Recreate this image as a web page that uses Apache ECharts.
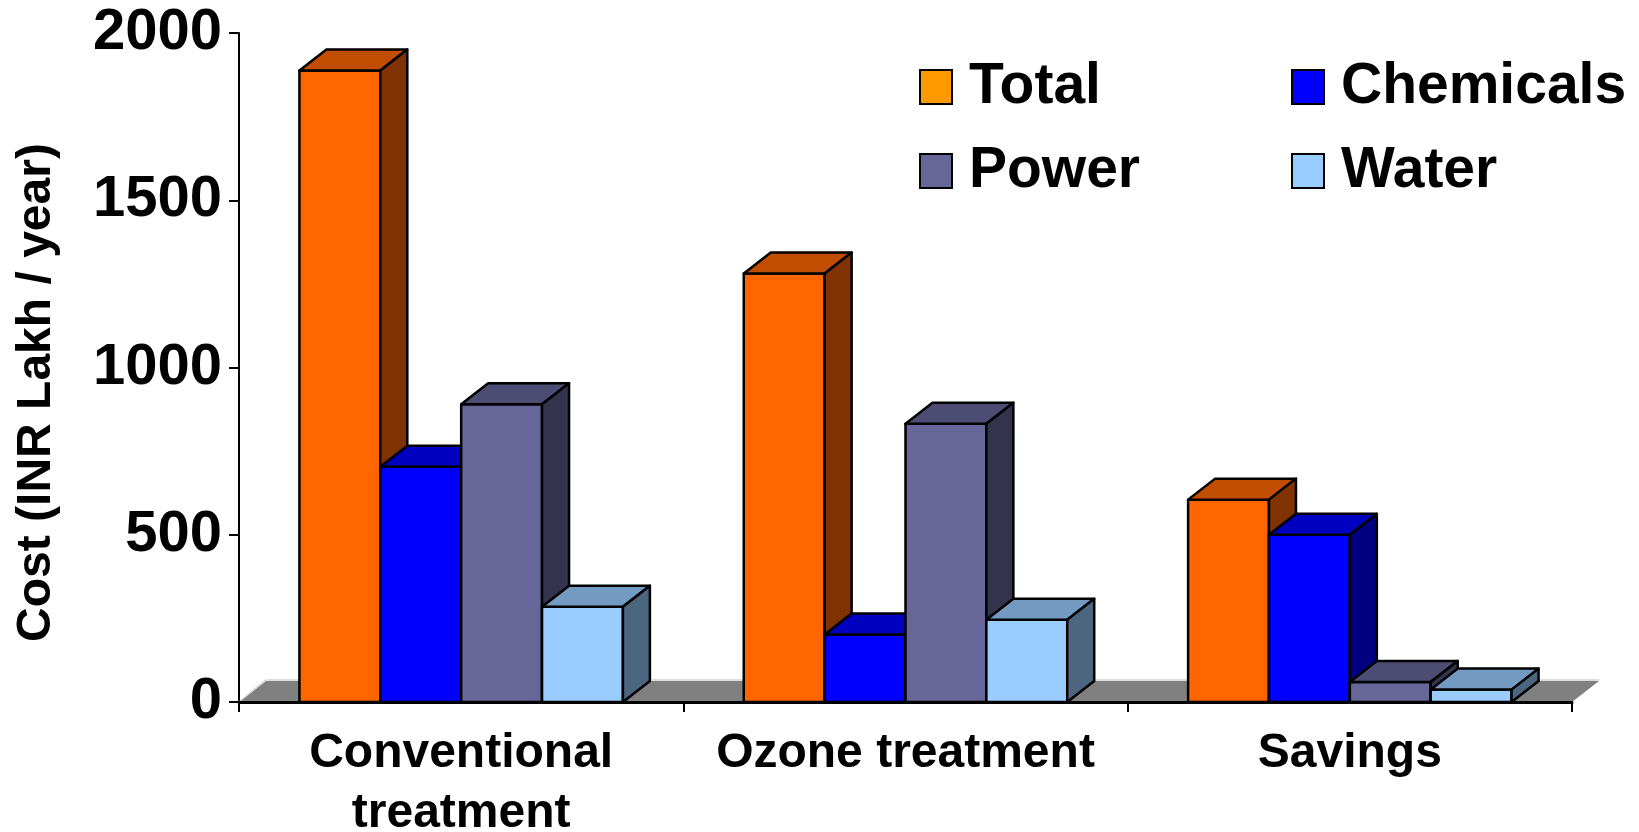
<!DOCTYPE html>
<html>
<head>
<meta charset="utf-8">
<script src="https://cdn.jsdelivr.net/npm/echarts@6/dist/echarts.min.js"></script>
<style>
  html, body { margin: 0; padding: 0; background: #fff; }
  #chart { width: 1639px; height: 832px; }
</style>
</head>
<body>
<div id="chart"></div>
<script>
// Data
const categories = ['Conventional\ntreatment', 'Ozone treatment', 'Savings'];
const seriesNames = ['Total', 'Chemicals', 'Power', 'Water'];
const total = [1888, 1281, 605];
const chemicals = [703, 202, 500];
const power = [890, 832, 60];
const water = [285, 246, 37];
const yTicks = [0, 500, 1000, 1500, 2000];

// styles (front, top, side faces) + legend swatch colours
const faceColors = [
  ['#FF6600', '#C04D00', '#803300'],
  ['#0000FF', '#0000C0', '#000080'],
  ['#666699', '#4D4D73', '#33334D'],
  ['#99CCFF', '#739AC0', '#4D6680'],
];
const legendColors = ['#FF9900', '#0000FF', '#666699', '#99CCFF'];

const FONT = 'Liberation Sans, Arial, sans-serif';
const DEPTH_X = 27;
const DEPTH_Y = 21;
const BAR_RATIO = 0.182; // bar width / category band

var chartDom = document.getElementById('chart');
var myChart = echarts.init(chartDom);
var option;

function barRenderer(k) {
  return function (params, api) {
    const ci = api.value(0);
    const v = api.value(1);
    const base = api.coord([ci, 0]);
    const top = api.coord([ci, v]);
    const band = api.size([1, 0])[0];
    const w = band * BAR_RATIO;
    const x0 = base[0] - 2 * w + k * w;
    const x1 = x0 + w;
    const ty = top[1];
    const by = base[1];
    const c = faceColors[k];
    const stroke = { stroke: '#000', lineWidth: 2.5, lineJoin: 'round' };
    return {
      type: 'group',
      children: [
        {
          type: 'rect',
          shape: { x: x0, y: ty, width: w, height: by - ty },
          style: Object.assign({ fill: c[0] }, stroke),
        },
        {
          type: 'polygon',
          shape: { points: [[x0, ty], [x0 + DEPTH_X, ty - DEPTH_Y], [x1 + DEPTH_X, ty - DEPTH_Y], [x1, ty]] },
          style: Object.assign({ fill: c[1] }, stroke),
        },
        {
          type: 'polygon',
          shape: { points: [[x1, ty], [x1 + DEPTH_X, ty - DEPTH_Y], [x1 + DEPTH_X, by - DEPTH_Y], [x1, by]] },
          style: Object.assign({ fill: c[2] }, stroke),
        },
      ],
    };
  };
}

function floorRenderer(params, api) {
  const band = api.size([1, 0])[0];
  const c0 = api.coord([0, 0]);
  const left = c0[0] - band / 2;
  const right = left + band * categories.length;
  const y = c0[1];
  return {
    type: 'group',
    children: [
      {
        type: 'polygon',
        shape: { points: [[left, y], [left + DEPTH_X, y - DEPTH_Y], [right + DEPTH_X, y - DEPTH_Y], [right, y]] },
        style: { fill: '#808080', stroke: null },
      },
      {
        type: 'polyline',
        shape: { points: [[left + 1, y - 1], [left + DEPTH_X, y - DEPTH_Y - 1], [right + DEPTH_X, y - DEPTH_Y - 1]] },
        style: { fill: null, stroke: '#d4d4d4', lineWidth: 1.5 },
      },
    ],
  };
}

const values = [total, chemicals, power, water];

const barSeries = seriesNames.map((name, k) => ({
  name: name,
  type: 'custom',
  renderItem: barRenderer(k),
  itemStyle: { color: legendColors[k], borderColor: '#000', borderWidth: 2 },
  encode: { x: 0, y: 1 },
  data: values[k].map((v, i) => [i, v]),
  z: 3,
}));

const legendText = {
  fontSize: 57,
  fontWeight: 'bold',
  fontFamily: FONT,
  color: '#000',
  lineHeight: 60,
  padding: [0, 0, 0, 12],
};

option = {
  animation: false,
  backgroundColor: '#fff',
  grid: { left: 239, right: 67, top: 33, bottom: 130, containLabel: false, outerBoundsMode: 'none' },
  legend: [
    {
      data: ['Total', 'Power'],
      orient: 'vertical',
      left: 914,
      top: 52,
      icon: 'rect',
      itemWidth: 32,
      itemHeight: 34,
      itemGap: 24,
      itemStyle: { borderColor: '#000', borderWidth: 2 },
      textStyle: legendText,
    },
    {
      data: ['Chemicals', 'Water'],
      orient: 'vertical',
      left: 1286,
      top: 52,
      icon: 'rect',
      itemWidth: 32,
      itemHeight: 34,
      itemGap: 24,
      itemStyle: { borderColor: '#000', borderWidth: 2 },
      textStyle: legendText,
    },
  ],
  xAxis: {
    type: 'category',
    data: categories,
    boundaryGap: true,
    z: 10,
    axisLine: { lineStyle: { color: '#000', width: 3 } },
    axisTick: { show: true, length: 10, lineStyle: { color: '#000', width: 2 } },
    axisLabel: {
      interval: 0,
      margin: 22,
      fontSize: 48,
      lineHeight: 60,
      fontWeight: 'bold',
      fontFamily: FONT,
      color: '#000',
    },
  },
  yAxis: {
    type: 'value',
    min: yTicks[0],
    max: yTicks[yTicks.length - 1],
    interval: 500,
    name: 'Cost (INR Lakh / year)',
    nameLocation: 'middle',
    nameGap: 178,
    nameTextStyle: {
      fontSize: 48,
      fontWeight: 'bold',
      fontFamily: FONT,
      color: '#000',
      padding: [0, 50, 0, 0],
    },
    splitLine: { show: false },
    axisLine: { show: true, lineStyle: { color: '#000', width: 2 } },
    axisTick: { show: true, length: 10, lineStyle: { color: '#000', width: 2 } },
    axisLabel: {
      margin: 17,
      fontSize: 58,
      fontWeight: 'bold',
      fontFamily: FONT,
      color: '#000',
      formatter: (v) => String(v),
    },
  },
  series: [
    {
      type: 'custom',
      renderItem: floorRenderer,
      silent: true,
      encode: { x: 0, y: 1 },
      data: [[0, 0]],
      z: 1,
    },
  ].concat(barSeries),
};

option && myChart.setOption(option);
</script>
</body>
</html>
